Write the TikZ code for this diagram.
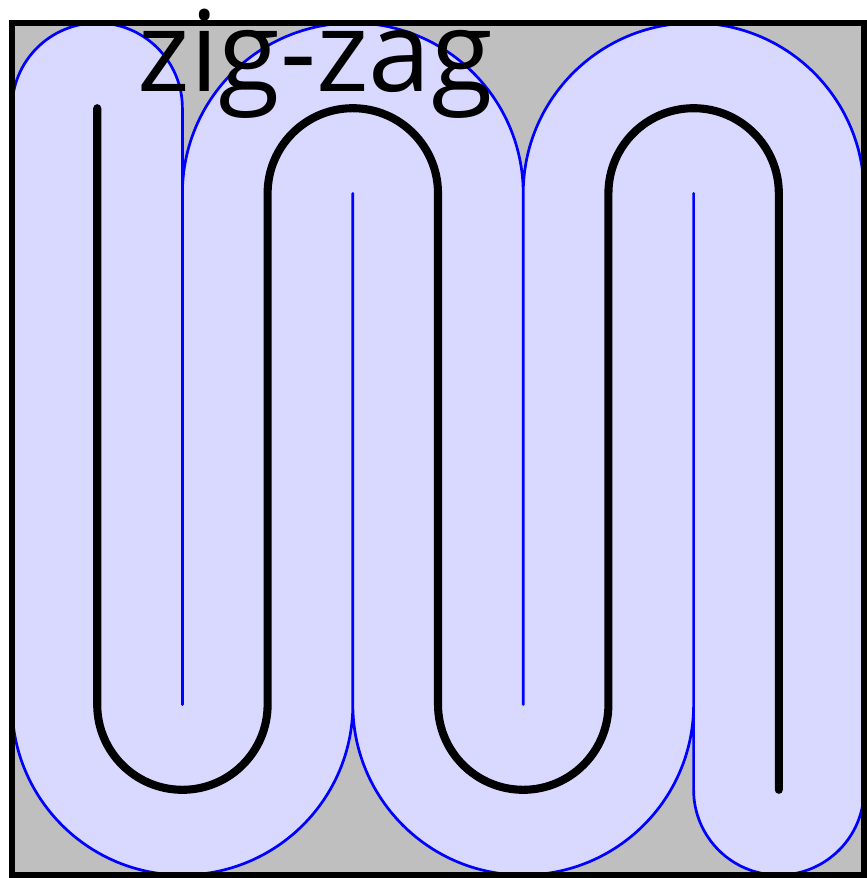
\documentclass[tikz,border=0pt]{standalone}
\usepackage{fontspec}
\setmainfont{Open Sans}
\begin{document}
\begin{tikzpicture}[x=1cm,y=1cm,
  framebox/.style={draw=black,line width=1.8pt},
  bufferzone/.style={draw=blue,line width=0.9pt,fill=blue!15,line join=round},
  spine/.style={draw=black,line width=2.7pt,line cap=round,line join=round},
  lbl/.style={font=\fontsize{37.5}{42}\selectfont,inner sep=0pt,anchor=base}]
\useasboundingbox (-1.141,-2.035) rectangle (9.035,8.27);
\fill[lightgray] (-1,-2) rectangle (9,8);
% buffer region around the path
\path[bufferzone] (-1,7) -- (-1,0) arc[start angle=180,end angle=360,radius=2]
  -- (3,6) -- (3,0) arc[start angle=180,end angle=360,radius=2]
  -- (7,6) -- (7,-1) arc[start angle=180,end angle=360,radius=1]
  -- (9,6) arc[start angle=0,end angle=180,radius=2]
  -- (5,0) -- (5,6) arc[start angle=0,end angle=180,radius=2]
  -- (1,0) -- (1,7) arc[start angle=0,end angle=180,radius=1] -- cycle;
% the zig-zag path
\coordinate (s) at (0,7);
\coordinate (e) at (8,-1);
\draw[spine] (s) -- (0,0) arc[start angle=180,end angle=360,radius=1]
  -- (2,6) arc[start angle=180,end angle=0,radius=1]
  -- (4,0) arc[start angle=180,end angle=360,radius=1]
  -- (6,6) arc[start angle=180,end angle=0,radius=1]
  -- (e);
\node[lbl] (t) at (2.56,7.2) {zig-zag};
\draw[framebox] (-1,-2) rectangle (9,8);
\end{tikzpicture}
\end{document}
